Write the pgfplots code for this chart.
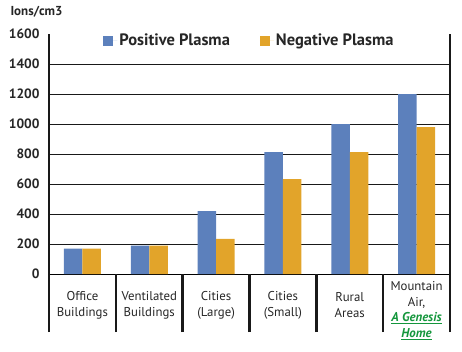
\documentclass[border=0pt]{standalone}
\usepackage{pgfplots}
\pgfplotsset{compat=1.18}
\usepackage{fontspec}
\setmainfont{PT Sans}
\definecolor{posblue}{RGB}{92,128,188}
\definecolor{negorange}{RGB}{226,164,42}
\definecolor{linkgreen}{RGB}{20,150,60}
\begin{document}
\begin{tikzpicture}
\begin{axis}[
  scale only axis,
  width=401pt, height=240pt,
  at={(49pt,77pt)}, anchor=south west,
  xmin=-0.5, xmax=5.5,
  ymin=0, ymax=1600,
  ybar=0pt, bar width=18.5pt,
  axis x line=bottom,
  axis y line=box,
  x axis line style={-, line width=0.8pt, black},
  y axis line style={-, line width=2.5pt, black!90},
  xtick={0,1,2,3,4,5},
  xticklabels={{Office\\Buildings}, {Ventilated\\Buildings}, {Cities\\(Large)}, {Cities\\(Small)}, {Rural\\Areas}, {\rule{0pt}{20pt}Mountain\\Air,\\{\color{linkgreen}\underline{\textbf{\textit{A Genesis}}}}\\{\color{linkgreen}\underline{\textbf{\textit{Home}}}}}},
  xticklabel style={align=center, font=\fontsize{12.8}{15.8}\selectfont, anchor=center, yshift=-31pt, text=black!85},
  major tick length=0pt,
  tick align=outside,
  extra x ticks={-0.5,0.5,1.5,2.5,3.5,4.5,5.5},
  extra x tick labels={},
  extra x tick style={major tick length=58pt, tick style={line width=2.5pt, black!90}, tick align=outside},
  ytick={0,200,...,1400},
  extra y ticks={1600},
  extra y tick style={grid=none},
  ytick pos=left,
  ymajorgrids,
  grid style={line width=0.8pt, black!90},
  yticklabel style={font=\bfseries\fontsize{13.5}{13.5}\selectfont, text=black!85, xshift=-6pt},
  /pgf/number format/assume math mode=true,
  /pgf/number format/1000 sep={},
  legend style={at={(0.5,1)}, anchor=north, draw=none, fill=none, legend columns=2,
    font=\bfseries\fontsize{16.5}{16.5}\selectfont, text=black!85,
    /tikz/every even column/.append style={column sep=28pt}, yshift=4pt},
  legend image code/.code={\fill[#1] (0pt,-5pt) rectangle (10pt,5pt); \path (0pt,0pt) -- (14pt,0pt);},
]
\addplot[fill=posblue, draw=none] coordinates {(0,170) (1,190) (2,420) (3,813) (4,1000) (5,1200)};
\addplot[fill=negorange, draw=none] coordinates {(0,170) (1,190) (2,235) (3,633) (4,813) (5,980)};
\legend{Positive Plasma, Negative Plasma}
\end{axis}
\node[anchor=west, font=\bfseries\fontsize{13}{13}\selectfont, text=black!85] at (7pt,339pt) {Ions/cm3};
\pgfresetboundingbox
\path[use as bounding box] (0,0) rectangle (462pt,351pt);
\end{tikzpicture}
\end{document}
